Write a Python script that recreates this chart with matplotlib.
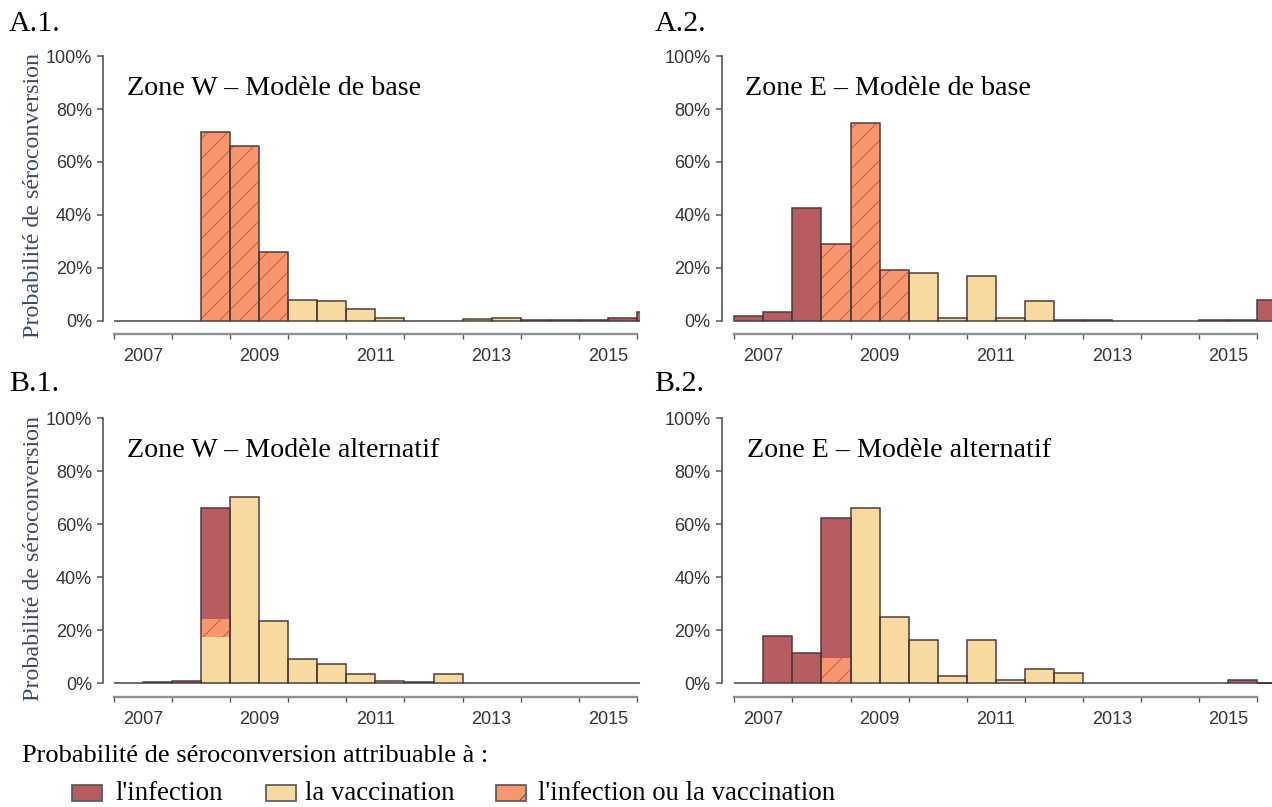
import numpy as np
import matplotlib.pyplot as plt
from matplotlib.patches import Rectangle

plt.rcParams['font.family'] = ['Liberation Serif', 'DejaVu Serif']
plt.rcParams['hatch.linewidth'] = 0.6
plt.rcParams['hatch.color'] = '#b9623f'

W, H, DPI = 1272, 807, 120

# semestres : 2007.0, 2007.5, ..., 2016.0
semestres = np.arange(2007.0, 2016.5, 0.5)
annees_ticks = list(range(2007, 2017))
annees_labels = ['2007', '2009', '2011', '2013', '2015']
y_ticks = [0, 0.2, 0.4, 0.6, 0.8, 1.0]
y_labels = ['0%', '20%', '40%', '60%', '80%', '100%']

# valeurs en %
a1_infection = [0] * 17 + [1.0, 3.4]
a1_vaccination = [0, 0, 0, 0, 0, 0, 8.0, 7.4, 4.4, 1.2, 0, 0, 0.5, 1.1, 0.3, 0.3, 0.3, 0, 0]
a1_les_deux = [0, 0, 0, 71.5, 66.0, 26.0] + [0] * 13

a2_infection = [1.9, 3.4, 42.7] + [0] * 15 + [7.9]
a2_vaccination = [0, 0, 0, 0, 0, 0, 18.2, 1.2, 17.0, 0.9, 7.3, 0.3, 0.3, 0, 0, 0, 0.3, 0.3, 0]
a2_les_deux = [0, 0, 0, 29.0, 74.9, 19.2] + [0] * 13

b1_infection = [0, 0, 0.9, 42.1] + [0] * 15
b1_vaccination = [0, 0.4, 0, 17.4, 70.4, 23.6, 9.3, 7.2, 3.5, 1.0, 0.5, 3.4, 0, 0, 0, 0, 0, 0, 0]
b1_les_deux = [0, 0, 0, 6.8] + [0] * 15

b2_infection = [0, 17.9, 11.3, 52.9] + [0] * 13 + [1.3, 0]
b2_vaccination = [0, 0, 0, 0, 66.3, 24.9, 16.4, 2.8, 16.4, 1.3, 5.4, 4.0, 0, 0, 0, 0, 0, 0, 0]
b2_les_deux = [0, 0, 0, 9.4] + [0] * 15

c_inf = '#b75d62'
c_vacc = '#f8d9a0'
c_deux = '#fa966d'
c_hachure = '#b9623f'
c_bord = '#4a3b3b'

PX_AN = 58.1

fig = plt.figure(figsize=(W / DPI, H / DPI), dpi=DPI)


def px(v):
    return v * 72.0 / DPI


def ftext(x, y, s, **kw):
    fig.text(x / W, 1 - y / H, s, **kw)


def make_axes(left, right, top, zero, x2007):
    unit = zero - top
    bottom = zero + 0.01 * unit
    ax = fig.add_axes([left / W, 1 - bottom / H, (right - left) / W, (bottom - top) / H])
    ax.set_xlim(2007 - (x2007 - left) / PX_AN, 2007 + (right - x2007) / PX_AN)
    ax.set_ylim(-0.01, 1.0)
    return ax


def panel(ax, inf, vacc, deux):
    inf = np.array(inf) / 100
    vacc = np.array(vacc) / 100
    deux = np.array(deux) / 100
    ax.bar(semestres, vacc, width=0.5, align='edge', color=c_vacc, linewidth=0)
    ax.bar(semestres, deux, width=0.5, bottom=vacc, align='edge', color=c_deux,
           edgecolor=c_hachure, linewidth=0, hatch='//')
    ax.bar(semestres, inf, width=0.5, bottom=vacc + deux, align='edge', color=c_inf, linewidth=0)
    ax.bar(semestres, vacc + deux + inf, width=0.5, align='edge', fill=False,
           edgecolor=c_bord, linewidth=0.9)

    for s in ['top', 'right']:
        ax.spines[s].set_visible(False)
    ax.spines['left'].set_bounds(0, 1)
    ax.spines['left'].set_color('#555555')
    ax.spines['left'].set_linewidth(1.0)
    ax.spines['bottom'].set_position(('outward', px(11)))
    ax.spines['bottom'].set_bounds(2007, 2016)
    ax.spines['bottom'].set_color('#8f8f8f')
    ax.spines['bottom'].set_linewidth(1.4)

    ax.set_xticks(annees_ticks)
    ax.set_xticklabels([''] * len(annees_ticks))
    ax.set_xticks(np.arange(2007.5, 2016, 2), minor=True)
    ax.set_xticklabels(annees_labels, minor=True, fontfamily='Liberation Sans')
    ax.tick_params(axis='x', which='major', direction='out', length=px(5), width=0.8, color='#555555')
    ax.tick_params(axis='x', which='minor', length=0, pad=px(14), labelsize=px(18), labelcolor='#353535')

    ax.set_yticks(y_ticks)
    ax.set_yticklabels(y_labels, fontfamily='Liberation Sans')
    ax.tick_params(axis='y', direction='out', length=px(6), width=0.9, color='#555555',
                   pad=px(5), labelsize=px(18), labelcolor='#353535')


axA1 = make_axes(103, 640, 56.2, 320.7, 114)
axA2 = make_axes(721.7, 1272, 56.2, 320.7, 734.3)
axB1 = make_axes(103, 640, 418.3, 683.3, 114)
axB2 = make_axes(721.7, 1272, 418.3, 683.3, 734.3)

panel(axA1, a1_infection, a1_vaccination, a1_les_deux)
panel(axA2, a2_infection, a2_vaccination, a2_les_deux)
panel(axB1, b1_infection, b1_vaccination, b1_les_deux)
panel(axB2, b2_infection, b2_vaccination, b2_les_deux)

# lettres des panneaux
ftext(9, 31, 'A.1.', fontsize=px(30), va='baseline')
ftext(655, 31, 'A.2.', fontsize=px(30), va='baseline')
ftext(9, 391, 'B.1.', fontsize=px(30), va='baseline')
ftext(654, 391, 'B.2.', fontsize=px(30), va='baseline')

# titres
ftext(127, 95, 'Zone W – Modèle de base', fontsize=px(28), va='baseline')
ftext(745, 95, 'Zone E – Modèle de base', fontsize=px(28), va='baseline')
ftext(127, 457, 'Zone W – Modèle alternatif', fontsize=px(28), va='baseline')
ftext(747, 457, 'Zone E – Modèle alternatif', fontsize=px(28), va='baseline')

# titres de l'axe y
ftext(34, 195, 'Probabilité de séroconversion', fontsize=px(24), rotation=90,
      ha='center', va='center', color='#3d4a6a')
ftext(34, 558, 'Probabilité de séroconversion', fontsize=px(24), rotation=90,
      ha='center', va='center', color='#3d4a6a')

# légende
ftext(22, 762, 'Probabilité de séroconversion attribuable à :', fontsize=px(26.4), va='baseline')
legende = [(72, c_inf, None, "l'infection", 115),
           (266, c_vacc, None, 'la vaccination', 305),
           (496, c_deux, '/', "l'infection ou la vaccination", 538)]
for x, col, hatch, txt, xt in legende:
    fig.add_artist(Rectangle((x / W, 1 - 801 / H), 30 / W, 16 / H, transform=fig.transFigure,
                             facecolor=col, edgecolor='#555555', linewidth=1.0, hatch=hatch))
    ftext(xt, 800, txt, fontsize=px(26.7), va='baseline')

fig.savefig('out.png', dpi=DPI)
